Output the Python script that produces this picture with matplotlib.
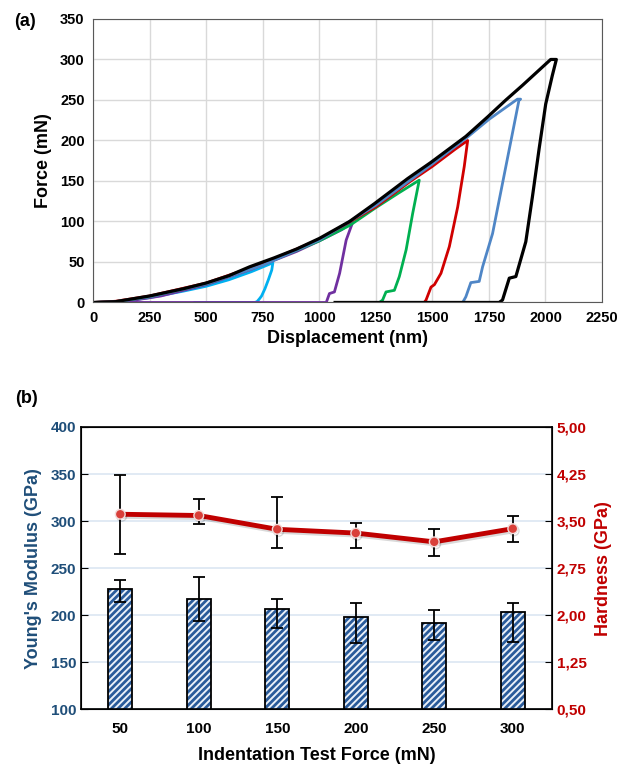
import numpy as np
import matplotlib
matplotlib.use("Agg")
import matplotlib.pyplot as plt
import matplotlib.patheffects as pe
from matplotlib.ticker import FuncFormatter

plt.rcParams['font.family'] = ['Liberation Sans', 'DejaVu Sans']
plt.rcParams['font.weight'] = 'bold'
plt.rcParams['axes.labelweight'] = 'bold'
plt.rcParams['hatch.linewidth'] = 2.0

# ---- panel (a): load-displacement curves (displacement nm, force mN) ----
cyan_h = [0, 100, 250, 400, 500, 600, 700, 795, 790, 775, 760, 745, 737, 725, 715, 450]
cyan_f = [0, 0.5, 6, 14, 20, 28, 38, 49, 40, 28, 17, 8, 5, 1, 0, 0]

purple_h = [0, 150, 300, 500, 700, 900, 1000, 1100, 1149, 1119, 1090, 1067, 1045, 1031, 150]
purple_f = [0, 1.5, 8, 22, 41, 63, 76, 90, 100, 77, 36, 13, 11, 0, 0]

green_h = [0, 100, 250, 500, 750, 1000, 1134, 1250, 1350, 1442, 1413, 1384, 1354, 1332, 1295, 1280, 1266]
green_f = [0, 1, 7, 23, 47, 76, 95, 117, 135, 151, 110, 65, 32, 15, 13, 3, 0]

red_h = [0, 100, 250, 500, 750, 1000, 1250, 1400, 1500, 1600, 1656, 1641, 1612, 1575, 1538, 1509, 1494, 1472, 1464]
red_f = [0, 1.5, 8, 24, 48, 78, 118, 149, 168, 189, 200, 168, 118, 69, 36, 22, 19, 3, 0]

blue_h = [0, 100, 250, 500, 750, 1000, 1250, 1500, 1650, 1750, 1876, 1890, 1883, 1854, 1810, 1766,
          1722, 1707, 1670, 1648, 1634]
blue_f = [0, 1, 7, 23, 46, 77, 120, 171, 203, 226, 251, 251, 250, 209, 147, 85, 44, 26, 24.5, 7, 0]

black_h = [0, 100, 250, 400, 500, 600, 692, 800, 900, 1000, 1134, 1244, 1391, 1494, 1648, 1744, 1825,
           1898, 2023, 2048, 2030, 2001, 1972, 1942, 1913, 1869, 1840, 1810, 1795, 1070]
black_f = [0, 1, 8, 17, 24, 33, 44, 55, 66, 79, 100, 122, 153, 173, 205, 229, 250, 268, 300, 300,
           280, 245, 190, 130, 75, 32, 30, 3, 0, 0]

# ---- panel (b): modulus / hardness vs test force ----
forces = ['50', '100', '150', '200', '250', '300']
modulus = [227.5, 217.5, 207, 198, 192, 203]
modulus_err_lo = [13.5, 23.5, 20, 27, 18, 31]
modulus_err_hi = [10, 23, 10, 15.5, 14, 10]
hardness = [3.61, 3.59, 3.37, 3.31, 3.17, 3.38]
hardness_err_lo = [0.63, 0.13, 0.30, 0.24, 0.22, 0.21]
hardness_err_hi = [0.63, 0.27, 0.51, 0.16, 0.20, 0.20]

fig = plt.figure(figsize=(6.35, 7.71), dpi=100)

# panel (a)
ax = fig.add_axes([0.1465, 0.6077, 0.8016, 0.3677])
curves = [(cyan_h, cyan_f, '#00B0F0'), (purple_h, purple_f, '#7030A0'),
          (green_h, green_f, '#00B050'), (red_h, red_f, '#D00000'),
          (blue_h, blue_f, '#4F86C6'), (black_h, black_f, '#000000')]
for h, f, c in curves:
    ax.plot(h, f, color=c, lw=2.0 if c != '#000000' else 2.3, solid_joinstyle='round')
ax.set_xlim(0, 2250)
ax.set_ylim(0, 350)
ax.set_xticks(np.arange(0, 2251, 250))
ax.set_yticks(np.arange(0, 351, 50))
ax.grid(True, color='#D9D9D9', lw=1.0)
ax.set_axisbelow(True)
for s in ax.spines.values():
    s.set_color('#595959')
ax.tick_params(length=0, labelsize=10.5, pad=6)
ax.set_xlabel('Displacement (nm)', fontsize=13, labelpad=4)
ax.set_ylabel('Force (mN)', fontsize=13, labelpad=6)
fig.text(0.022, 0.972, '(a)', fontsize=13, ha='left', va='center')

# panel (b)
axb = fig.add_axes([0.1276, 0.0798, 0.7417, 0.3664])
x = np.arange(len(forces))
axb.bar(x, modulus, width=0.3, bottom=0, facecolor='#EAF0F8', edgecolor='#2A5B9A',
        hatch='/////', lw=0, zorder=2)
axb.bar(x, modulus, width=0.3, fill=False, edgecolor='black', lw=1.3, zorder=3)
axb.errorbar(x, modulus, yerr=[modulus_err_lo, modulus_err_hi], fmt='none',
             ecolor='black', elinewidth=1.3, capsize=4, capthick=1.3, zorder=4)
axb.set_ylim(100, 400)
axb.set_xlim(-0.5, 5.5)
axb.set_yticks(np.arange(100, 401, 50))
axb.set_xticks(x)
axb.set_xticklabels(forces)
axb.yaxis.grid(True, color='#DCE6F2', lw=1.2)
axb.set_axisbelow(True)
axb.tick_params(axis='y', labelsize=11, direction='in', length=5,
                labelcolor='#1F4E79', color='black')
axb.tick_params(axis='x', length=0, labelsize=11, pad=9)
axb.set_ylabel("Young's Modulus (GPa)", color='#1F4E79', fontsize=13, labelpad=6)
axb.set_xlabel('Indentation Test Force (mN)', fontsize=13, labelpad=8)
for s in axb.spines.values():
    s.set_color('black')
    s.set_linewidth(1.2)

ax2 = axb.twinx()
ax2.errorbar(x, hardness, yerr=[hardness_err_lo, hardness_err_hi], fmt='none',
             ecolor='black', elinewidth=1.3, capsize=4, capthick=1.3, zorder=3)
ax2.plot(x, hardness, color='#C00000', lw=3.5, marker='o', ms=7,
         mfc='#D9403A', mec='#F2DCDB', mew=1.0, zorder=4,
         path_effects=[pe.SimpleLineShadow(offset=(1, -1.5), alpha=0.15), pe.Normal()])
ax2.set_ylim(0.5, 5.0)
ax2.set_yticks(np.arange(0.5, 5.01, 0.75))
ax2.yaxis.set_major_formatter(FuncFormatter(lambda v, p: f'{v:.2f}'.replace('.', ',')))
ax2.tick_params(axis='y', labelcolor='#C00000', color='black', labelsize=11,
                direction='in', length=5)
ax2.set_ylabel('Hardness (GPa)', color='#C00000', fontsize=13, labelpad=6)
fig.text(0.024, 0.483, '(b)', fontsize=13, ha='left', va='center')

fig.savefig('out.png', dpi=100)
